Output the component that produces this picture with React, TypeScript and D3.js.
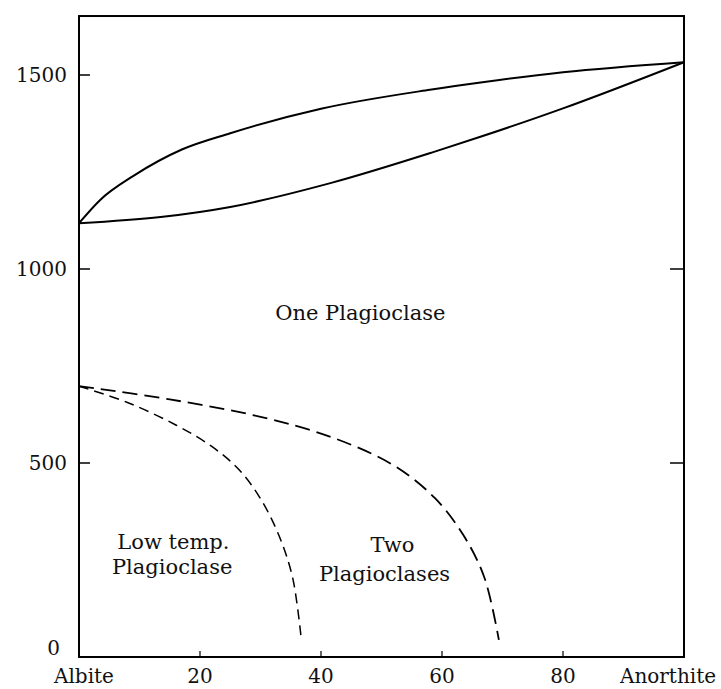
import React from "react";
import * as d3 from "d3";

// composition (% anorthite) and temperature (°C)
const liquidusX = [0, 3.5, 9, 17, 25, 40, 58, 67, 80, 100];
const liquidusT = [1118, 1178, 1240, 1308, 1350, 1413, 1462, 1482, 1507, 1533];

const solidusX = [0, 13.5, 25, 41.7, 58.3, 66.6, 80, 100];
const solidusT = [1118, 1134, 1160, 1222, 1300, 1342, 1414, 1533];

const solvusX = [0, 15, 30, 42, 52, 58.8, 63.5, 67, 69.4];
const solvusT = [698, 664, 619, 565, 494, 410, 315, 205, 44];

const lowTempX = [0, 8, 16, 22, 26.5, 30, 33, 35.3, 36.7];
const lowTempT = [698, 656, 598, 542, 482, 408, 315, 205, 52];

const xTicks = [0, 20, 40, 60, 80, 100];
const xTickLabels = ["Albite", "20", "40", "60", "80", "Anorthite"];
const yTicks = [0, 500, 1000, 1500];

const labels = [
  { text: "One Plagioclase", x: 46.5, t: 868 },
  { text: "Low temp.", x: 15.6, t: 278 },
  { text: "Plagioclase", x: 15.4, t: 213 },
  { text: "Two", x: 51.8, t: 270 },
  { text: "Plagioclases", x: 50.5, t: 197 },
];

const W = 721;
const H = 689;
const font = "'DejaVu Serif', 'Liberation Serif', serif";

export default function App() {
  const x = d3.scaleLinear().domain([0, 100]).range([79, 684]);
  const y = d3.scaleLinear().domain([0, 1500]).range([657, 75]);
  const yTop = 1652;

  const solid = d3
    .line<[number, number]>()
    .x(d => x(d[0]))
    .y(d => y(d[1]))
    .curve(d3.curveMonotoneX);

  // the solvus curves bend down steeply, catmull-rom keeps them round
  const dashed = d3
    .line<[number, number]>()
    .x(d => x(d[0]))
    .y(d => y(d[1]))
    .curve(d3.curveCatmullRom.alpha(0.5));

  const zip = (xs: number[], ts: number[]) => xs.map((v, i) => [v, ts[i]] as [number, number]);

  const x0 = x(0);
  const x1 = x(100);
  const yb = y(0);
  const yt = y(yTop);

  return (
    <svg width={W} height={H} style={{ position: "absolute", left: 0, top: 0, background: "#fff" }}>
      {/* frame */}
      <rect x={x0} y={yt} width={x1 - x0} height={yb - yt} fill="none" stroke="#000" strokeWidth={2} />

      {/* ticks */}
      {yTicks.filter(t => t > 0).map(t => (
        <line key={"yl" + t} x1={x0} x2={x0 + 11} y1={y(t)} y2={y(t)} stroke="#000" strokeWidth={1.5} />
      ))}
      {[500, 1000].map(t => (
        <line key={"yr" + t} x1={x1 - 14} x2={x1} y1={y(t)} y2={y(t)} stroke="#000" strokeWidth={1.5} />
      ))}
      {xTicks.slice(1, -1).map(t => (
        <line key={"xt" + t} x1={x(t)} x2={x(t)} y1={yb} y2={yb - 6} stroke="#000" strokeWidth={1.2} />
      ))}

      {/* tick labels */}
      {yTicks.map(t => (
        <text
          key={"ylab" + t}
          x={t === 0 ? 60 : 67}
          y={t === 0 ? yb - 2 : y(t) + 7}
          textAnchor="end"
          fontFamily={font}
          fontSize={20}
          fill="#111"
        >
          {t}
        </text>
      ))}
      {xTicks.map((t, i) => (
        <text
          key={"xlab" + t}
          x={i === 0 ? 84 : i === xTicks.length - 1 ? 668 : x(t)}
          y={683}
          textAnchor="middle"
          fontFamily={font}
          fontSize={20}
          fill="#111"
        >
          {xTickLabels[i]}
        </text>
      ))}

      {/* phase boundaries */}
      <path d={solid(zip(liquidusX, liquidusT)) || ""} fill="none" stroke="#000" strokeWidth={2} />
      <path d={solid(zip(solidusX, solidusT)) || ""} fill="none" stroke="#000" strokeWidth={2} />
      <path
        d={dashed(zip(solvusX, solvusT)) || ""}
        fill="none"
        stroke="#000"
        strokeWidth={1.8}
        strokeDasharray="15 7"
      />
      <path
        d={dashed(zip(lowTempX, lowTempT)) || ""}
        fill="none"
        stroke="#000"
        strokeWidth={1.5}
        strokeDasharray="10 6"
      />

      {/* field labels */}
      {labels.map(l => (
        <text
          key={l.text}
          x={x(l.x)}
          y={y(l.t)}
          textAnchor="middle"
          fontFamily={font}
          fontSize={21}
          fill="#111"
        >
          {l.text}
        </text>
      ))}
    </svg>
  );
}
